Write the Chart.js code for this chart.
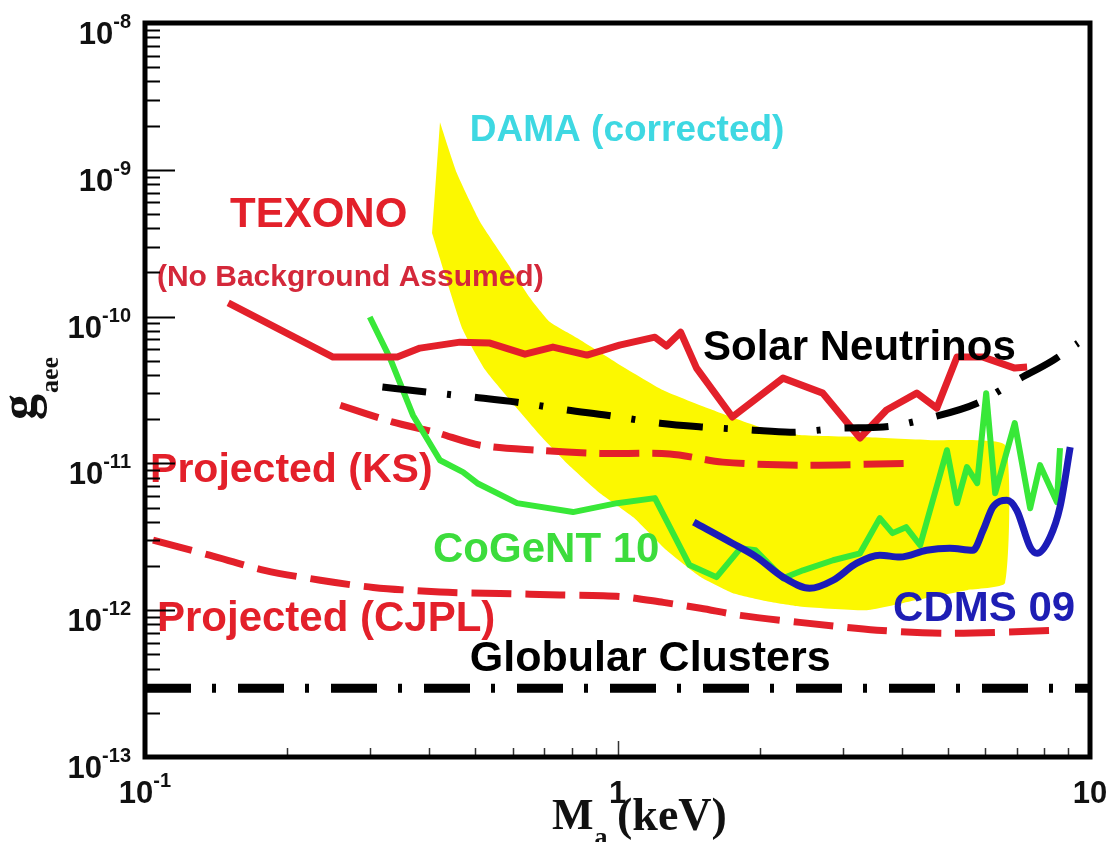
<!DOCTYPE html>
<html><head><meta charset="utf-8">
<script src="https://cdn.jsdelivr.net/npm/chart.js@4.4.0/dist/chart.umd.min.js"></script>
<style>html,body{margin:0;padding:0;background:#fff;overflow:hidden}canvas{display:block}</style>
</head><body>
<canvas id="c" width="1111" height="842" style="width:1111px;height:842px"></canvas>
<script>
// ---------------- data ----------------
const texonoX = [0.150, 0.250, 0.342, 0.382, 0.464, 0.537, 0.637, 0.730, 0.862, 1.01, 1.20, 1.27, 1.36, 1.47, 1.75, 2.24, 2.72, 3.26, 3.71, 4.30, 4.74, 5.23, 5.94, 6.93, 7.36];
const texonoY = [1.24e-10, 5.3e-11, 5.3e-11, 6.1e-11, 6.7e-11, 6.6e-11, 5.55e-11, 6.2e-11, 5.47e-11, 6.4e-11, 7.24e-11, 6.3e-11, 7.83e-11, 4.46e-11, 2.07e-11, 3.81e-11, 3.01e-11, 1.49e-11, 2.31e-11, 3.01e-11, 2.38e-11, 5.3e-11, 5.3e-11, 4.46e-11, 4.53e-11];

const solarX = [0.318, 0.395, 0.494, 0.613, 0.782, 0.950, 1.23, 1.52, 1.91, 2.32, 3.00, 3.65, 4.65, 5.77, 7.00, 8.36, 9.43];
const solarY = [3.31e-11, 3.06e-11, 2.83e-11, 2.61e-11, 2.31e-11, 2.13e-11, 1.88e-11, 1.77e-11, 1.69e-11, 1.63e-11, 1.74e-11, 1.77e-11, 2.07e-11, 2.57e-11, 3.69e-11, 5.05e-11, 6.59e-11];

const ksX = [0.259, 0.335, 0.411, 0.512, 0.676, 0.918, 1.29, 1.67, 2.43, 4.16];
const ksY = [2.49e-11, 1.91e-11, 1.63e-11, 1.33e-11, 1.23e-11, 1.17e-11, 1.16e-11, 1.02e-11, 9.73e-12, 1.0e-11];

const cjplX = [0.104, 0.137, 0.179, 0.235, 0.304, 0.421, 0.564, 0.755, 1.01, 1.25, 1.50, 1.82, 2.43, 3.54, 5.05, 8.73];
const cjplY = [3.0e-12, 2.37e-12, 1.87e-12, 1.60e-12, 1.43e-12, 1.33e-12, 1.30e-12, 1.27e-12, 1.24e-12, 1.13e-12, 1.03e-12, 9.22e-13, 8.26e-13, 7.31e-13, 6.97e-13, 7.31e-13];

const cogentX = [0.299, 0.330, 0.369, 0.421, 0.471, 0.505, 0.613, 0.805, 0.998, 1.20, 1.42, 1.62, 1.82, 1.96, 2.24, 2.47, 2.86, 3.26, 3.59, 3.82, 4.08, 4.37, 4.98, 5.23, 5.49, 5.77, 6.03, 6.30, 6.93, 7.47, 7.84, 8.51, 8.64];
const cogentY = [9.93e-11, 5.21e-11, 2.13e-11, 1.05e-11, 8.72e-12, 7.33e-12, 5.36e-12, 4.66e-12, 5.36e-12, 5.80e-12, 2.03e-12, 1.68e-12, 2.64e-12, 2.56e-12, 1.65e-12, 1.87e-12, 2.19e-12, 2.44e-12, 4.24e-12, 3.35e-12, 3.68e-12, 2.77e-12, 1.23e-11, 5.36e-12, 9.43e-12, 7.33e-12, 3.01e-11, 6.27e-12, 1.88e-11, 4.95e-12, 9.73e-12, 5.45e-12, 1.27e-11];

const cdmsX = [1.45, 1.75, 1.97, 2.24, 2.55, 2.86, 3.21, 3.59, 3.96, 4.51, 5.05, 5.65, 5.94, 6.23, 6.67, 7.00, 7.47, 7.73, 8.23, 8.64, 9.08];
const cdmsY = [3.98e-12, 2.86e-12, 2.30e-12, 1.68e-12, 1.41e-12, 1.60e-12, 2.09e-12, 2.37e-12, 2.30e-12, 2.56e-12, 2.64e-12, 2.56e-12, 3.50e-12, 5.04e-12, 5.61e-12, 4.79e-12, 2.69e-12, 2.44e-12, 3.14e-12, 5.04e-12, 1.29e-11];

// DAMA region outline (upper edge left->right, then lower edge right->left)
const damaX = [0.421, 0.457, 0.512, 0.583, 0.653, 0.720, 0.821, 0.998, 1.25, 1.59, 2.00, 2.43, 3.37, 4.66, 6.61, 6.61, 5.49, 4.27, 3.37, 2.43, 2.07, 1.75, 1.50, 1.27, 1.08, 0.918, 0.782, 0.685, 0.592, 0.525, 0.471, 0.405];
const damaY = [2.11e-9, 9.50e-10, 4.41e-10, 2.35e-10, 1.34e-10, 9.17e-11, 7.14e-11, 4.82e-11, 3.15e-11, 2.31e-11, 1.77e-11, 1.56e-11, 1.51e-11, 1.44e-11, 1.33e-11, 1.53e-12, 1.37e-12, 1.17e-12, 1.0e-12, 1.06e-12, 1.15e-12, 1.31e-12, 1.68e-12, 2.56e-12, 4.30e-12, 6.27e-12, 1.0e-11, 1.56e-11, 2.70e-11, 4.32e-11, 8.09e-11, 3.71e-10];

const globularX = [0.1, 10];
const globularY = [2.94e-13, 2.94e-13];

// axes
const xMin = 0.1, xMax = 10, yMin = 1e-13, yMax = 1e-8;
const xTickValues = [0.1, 1, 10];
const xTickBase = ['10', '1', '10'];
const xTickExp = ['-1', '', ''];
const yTickValues = [1e-13, 1e-12, 1e-11, 1e-10, 1e-9, 1e-8];
const yTickBase = ['10', '10', '10', '10', '10', '10'];
const yTickExp = ['-13', '-12', '-11', '-10', '-9', '-8'];

// text labels placed in data coordinates (left, baseline)
const textLabels = ['DAMA (corrected)', 'TEXONO', '(No Background Assumed)', 'Solar Neutrinos', 'Projected (KS)', 'Projected (CJPL)', 'CoGeNT 10', 'CDMS 09', 'Globular Clusters'];
const textX = [0.487, 0.1513, 0.106, 1.517, 0.1025, 0.106, 0.407, 3.83, 0.487];
const textY = [1.57e-9, 4.07e-10, 1.61e-10, 5.05e-11, 7.45e-12, 7.19e-13, 2.12e-12, 8.41e-13, 3.84e-13];

// ---------------- styling ----------------
const SANS = '"Liberation Sans", Arial, Helvetica, sans-serif';
const SERIF = '"Liberation Serif", "Times New Roman", serif';
const RED = '#e3202a';
const textStyles = [
  {color: '#3ed8e2', size: 37},
  {color: RED, size: 42},
  {color: '#d4283a', size: 30},
  {color: '#000000', size: 42},
  {color: RED, size: 41},
  {color: RED, size: 42},
  {color: '#3cdc3c', size: 42},
  {color: '#1e1eb4', size: 42},
  {color: '#000000', size: 43}
];

function pts(xs, ys) { return xs.map((x, i) => ({x: x, y: ys[i]})); }

const datasets = [
  {label: 'DAMA (corrected)', data: pts(damaX, damaY), borderWidth: 0, borderColor: 'rgba(0,0,0,0)',
   backgroundColor: '#fcf800', fill: 'shape', tension: 0.15, order: 10},
  {label: 'Projected (CJPL)', data: pts(cjplX, cjplY), borderColor: RED, borderWidth: 7,
   borderDash: [40, 14], tension: 0.3, order: 8},
  {label: 'Projected (KS)', data: pts(ksX, ksY), borderColor: RED, borderWidth: 7,
   borderDash: [40, 13], tension: 0.3, order: 7},
  {label: 'CoGeNT 10', data: pts(cogentX, cogentY), borderColor: '#38e838', borderWidth: 6, tension: 0, order: 6},
  {label: 'CDMS 09', data: pts(cdmsX, cdmsY), borderColor: '#1c1cb8', borderWidth: 7,
   cubicInterpolationMode: 'monotone', order: 5},
  {label: 'TEXONO', data: pts(texonoX, texonoY), borderColor: RED, borderWidth: 7, tension: 0, order: 4},
  {label: 'Solar Neutrinos', data: pts(solarX, solarY), borderColor: '#000', borderWidth: 7,
   borderDash: [44, 21, 4, 24], cubicInterpolationMode: 'monotone', order: 3},
  {label: 'Globular Clusters', data: pts(globularX, globularY), borderColor: '#000', borderWidth: 9,
   borderDash: [46, 21, 4, 22], tension: 0, order: 2}
];
datasets.forEach(d => { d.pointRadius = 0; d.pointHoverRadius = 0; d.borderCapStyle = 'butt'; d.borderJoinStyle = 'round'; if (d.fill === undefined) d.fill = false; });

const decor = {
  id: 'decor',
  afterDatasetsDraw(chart) {
    const {ctx, chartArea: a} = chart;
    const xs = chart.scales.x, ys = chart.scales.y;
    ctx.save();
    ctx.textAlign = 'left';
    ctx.textBaseline = 'alphabetic';

    // in-plot labels
    textLabels.forEach((t, i) => {
      const st = textStyles[i];
      ctx.font = 'bold ' + st.size + 'px ' + SANS;
      ctx.fillStyle = st.color;
      ctx.fillText(t, xs.getPixelForValue(textX[i]), ys.getPixelForValue(textY[i]));
    });

    // y ticks (inward)
    ctx.strokeStyle = '#000';
    ctx.lineWidth = 2;
    ctx.beginPath();
    for (let d = 0; d < yTickValues.length - 1; d++) {
      const dec = yTickValues[d];
      if (d > 0) {
        const p = Math.round(ys.getPixelForValue(dec)) + 0.5;
        ctx.moveTo(a.left, p); ctx.lineTo(a.left + 30, p);
      }
      for (let k = 2; k <= 9; k++) {
        const p = Math.round(ys.getPixelForValue(k * dec)) + 0.5;
        ctx.moveTo(a.left, p); ctx.lineTo(a.left + 15, p);
      }
    }
    ctx.stroke();

    // x ticks (inward, thin)
    ctx.strokeStyle = '#333';
    ctx.lineWidth = 1.5;
    ctx.beginPath();
    for (let d = 0; d < xTickValues.length - 1; d++) {
      const dec = xTickValues[d];
      if (d > 0) {
        const p = Math.round(xs.getPixelForValue(dec)) + 0.5;
        ctx.moveTo(p, a.bottom); ctx.lineTo(p, a.bottom - 16);
      }
      for (let k = 2; k <= 9; k++) {
        const p = Math.round(xs.getPixelForValue(k * dec)) + 0.5;
        ctx.moveTo(p, a.bottom); ctx.lineTo(p, a.bottom - 9);
      }
    }
    ctx.stroke();

    // frame
    ctx.strokeStyle = '#000';
    ctx.lineWidth = 5;
    ctx.strokeRect(a.left, a.top, a.right - a.left, a.bottom - a.top);

    // y tick labels
    ctx.fillStyle = '#111';
    yTickValues.forEach((v, i) => {
      const py = ys.getPixelForValue(v);
      ctx.font = 'bold 31px ' + SANS;
      const bw = ctx.measureText(yTickBase[i]).width;
      ctx.font = 'bold 20px ' + SANS;
      const ew = ctx.measureText(yTickExp[i]).width;
      const right = a.left - 14;
      ctx.fillText(yTickExp[i], right - ew, py + 5);
      ctx.font = 'bold 31px ' + SANS;
      ctx.fillText(yTickBase[i], right - ew - bw, py + 21);
    });

    // x tick labels
    xTickValues.forEach((v, i) => {
      const px = xs.getPixelForValue(v);
      ctx.font = 'bold 31px ' + SANS;
      const bw = ctx.measureText(xTickBase[i]).width;
      ctx.font = 'bold 20px ' + SANS;
      const ew = xTickExp[i] ? ctx.measureText(xTickExp[i]).width : 0;
      const left = px - (bw + ew) / 2;
      ctx.font = 'bold 31px ' + SANS;
      ctx.fillText(xTickBase[i], left, a.bottom + 46);
      if (ew) { ctx.font = 'bold 20px ' + SANS; ctx.fillText(xTickExp[i], left + bw, a.bottom + 30); }
    });

    // y axis title: g_aee (rotated)
    ctx.save();
    ctx.translate(a.left - 109, a.top + 397);
    ctx.rotate(-Math.PI / 2);
    ctx.font = 'bold 52px ' + SERIF;
    const gw = ctx.measureText('g').width;
    ctx.fillText('g', 0, 0);
    ctx.font = 'bold 26px ' + SERIF;
    ctx.fillText('aee', gw + 1, 22);
    ctx.restore();

    // x axis title: M_a (keV)
    ctx.font = 'bold 44px ' + SERIF;
    ctx.fillText('M', a.left + 407, a.bottom + 72);
    const mw = ctx.measureText('M').width;
    ctx.font = 'bold 26px ' + SERIF;
    ctx.fillText('a', a.left + 407 + mw + 1, a.bottom + 88);
    ctx.font = 'bold 46px ' + SERIF;
    ctx.fillText('(keV)', a.left + 472, a.bottom + 73);

    ctx.restore();
  }
};

new Chart(document.getElementById('c'), {
  type: 'line',
  data: {datasets: datasets},
  options: {
    responsive: false,
    animation: false,
    events: [],
    layout: {padding: {left: 145, top: 23, right: 21, bottom: 85}},
    scales: {
      x: {type: 'logarithmic', min: xMin, max: xMax, display: false},
      y: {type: 'logarithmic', min: yMin, max: yMax, display: false}
    },
    plugins: {legend: {display: false}, tooltip: {enabled: false}}
  },
  plugins: [decor]
});
</script>
</body></html>
